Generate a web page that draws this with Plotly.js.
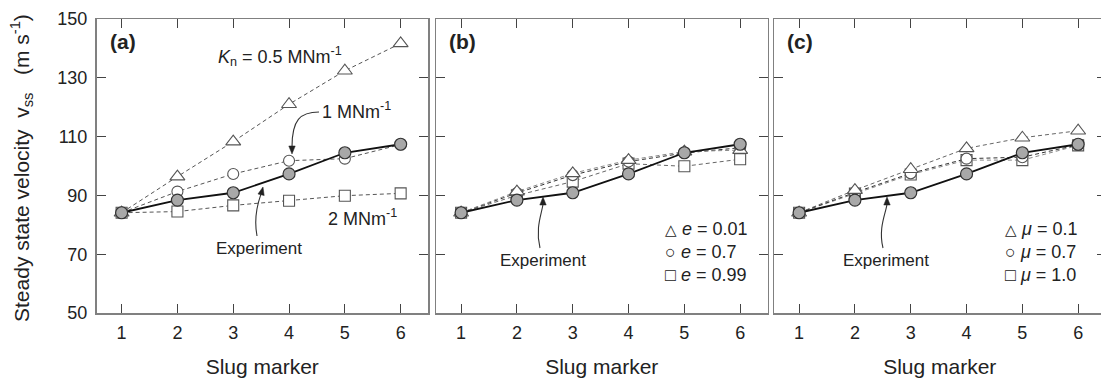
<!DOCTYPE html>
<html><head><meta charset="utf-8">
<script src="https://cdn.plot.ly/plotly-3.0.1.min.js"></script>
<style>html,body{margin:0;padding:0;overflow:hidden;background:#fff;}#chart{width:1108px;height:385px;}</style>
</head><body><div id="chart"></div>
<script>
// ---- data ----
const slugMarker = [1, 2, 3, 4, 5, 6];
const experiment = [84.1, 88.4, 90.9, 97.3, 104.5, 107.4];
const kn05 = [84.1, 96.4, 108.3, 121.0, 132.4, 141.7];
const kn1  = [84.1, 91.3, 97.3, 101.8, 102.5, 107.3];
const kn2  = [84.1, 84.5, 86.6, 88.2, 89.9, 90.7];
const e001 = [84.1, 91.3, 97.5, 102.0, 104.9, 105.4];
const e07  = [84.1, 90.8, 96.9, 101.5, 104.4, 106.2];
const e099 = [84.1, 90.0, 94.7, 100.8, 99.9, 102.3];
const mu01 = [84.1, 91.8, 98.9, 106.0, 109.6, 112.0];
const mu07 = [84.1, 91.0, 97.5, 102.5, 103.0, 107.2];
const mu10 = [84.1, 90.6, 97.1, 102.0, 102.0, 107.0];
const yTicks = [50, 70, 90, 110, 130, 150];
const panelLabels = ['(a)', '(b)', '(c)'];
const xTitle = 'Slug marker';
const yTitle = 'Steady state velocity  v<sub>ss</sub>   (m s<sup>-1</sup>)';
const legendB = ['<i>e</i> = 0.01', '<i>e</i> = 0.7', '<i>e</i> = 0.99'];
const legendC = ['<i>μ</i> = 0.1', '<i>μ</i> = 0.7', '<i>μ</i> = 1.0'];

// ---- geometry helpers ----
const W = 1108, H = 385;
const px = v => v / W, py = v => 1 - v / H;
const FONT = 'Liberation Sans, Arial, sans-serif';
const TXT = '#222';

const panels = [
  {xa: 'x', ya: 'y', l: 96.5, r: 428},
  {xa: 'x2', ya: 'y2', l: 436, r: 767.5},
  {xa: 'x3', ya: 'y3', l: 774, r: 1105.5}
];

function dashed(x, y, sym, xa, ya, col) {
  return {x: x, y: y, xaxis: xa, yaxis: ya, type: 'scatter', mode: 'lines+markers',
    line: {color: col || '#555', width: 1, dash: '4px,3px'},
    marker: {symbol: sym, size: sym === 'triangle-up' ? 13 : 11,
      color: '#fff', line: {color: '#555', width: 1.1}},
    showlegend: false, hoverinfo: 'skip'};
}
function exper(xa, ya) {
  return {x: slugMarker, y: experiment, xaxis: xa, yaxis: ya, type: 'scatter', mode: 'lines+markers',
    line: {color: '#111', width: 1.8},
    marker: {symbol: 'circle', size: 12, color: '#a8a8a8', line: {color: '#333', width: 1.2}},
    showlegend: false, hoverinfo: 'skip'};
}

const data = [
  dashed(slugMarker, kn05, 'triangle-up', 'x', 'y'),
  dashed(slugMarker, kn1, 'circle', 'x', 'y'),
  dashed(slugMarker, kn2, 'square', 'x', 'y'),
  exper('x', 'y'),
  dashed(slugMarker, e099, 'square', 'x2', 'y2', '#666'),
  dashed(slugMarker, e07, 'circle', 'x2', 'y2', '#333'),
  dashed(slugMarker, e001, 'triangle-up', 'x2', 'y2', '#888'),
  exper('x2', 'y2'),
  dashed(slugMarker, mu10, 'square', 'x3', 'y3', '#888'),
  dashed(slugMarker, mu07, 'circle', 'x3', 'y3', '#333'),
  dashed(slugMarker, mu01, 'triangle-up', 'x3', 'y3', '#666'),
  exper('x3', 'y3')
];

const layout = {
  width: W, height: H,
  margin: {l: 0, r: 0, t: 0, b: 0},
  paper_bgcolor: '#fff', plot_bgcolor: '#fff',
  font: {family: FONT, color: TXT, size: 16},
  showlegend: false,
  annotations: [], shapes: []
};

panels.forEach((p, i) => {
  const xk = i === 0 ? 'xaxis' : 'xaxis' + (i + 1);
  const yk = i === 0 ? 'yaxis' : 'yaxis' + (i + 1);
  layout[xk] = {
    domain: [px(p.l), px(p.r)], range: [0.55, 6.49], anchor: p.ya,
    tickmode: 'array', tickvals: slugMarker, ticktext: slugMarker.map(String),
    ticks: 'inside', ticklen: 9, tickwidth: 1, tickcolor: '#444',
    showline: true, linecolor: '#808080', linewidth: 1.5, mirror: 'ticks',
    showgrid: false, zeroline: false, automargin: false,
    tickfont: {family: FONT, size: 18, color: TXT}, ticklabelstandoff: 3,
    title: {text: xTitle, font: {family: FONT, size: 21, color: TXT}, standoff: 17}
  };
  layout[yk] = {
    domain: [py(313), py(19)], range: [50, 150], anchor: p.xa,
    tickmode: 'array', tickvals: yTicks, ticktext: yTicks.map(String),
    showticklabels: i === 0,
    ticks: 'inside', ticklen: 9, tickwidth: 1, tickcolor: '#444',
    showline: true, linecolor: '#808080', linewidth: 1.5, mirror: 'ticks',
    showgrid: false, zeroline: false, automargin: false,
    tickfont: {family: FONT, size: 18, color: TXT}, ticklabelstandoff: 4
  };
  layout.annotations.push({xref: 'paper', yref: 'paper', x: px(p.l + 11), y: py(41),
    xanchor: 'left', yanchor: 'middle', showarrow: false, text: '<b>' + panelLabels[i] + '</b>',
    font: {family: FONT, size: 21, color: TXT}});
});

// y title
layout.annotations.push({xref: 'paper', yref: 'paper', x: px(22), y: py(168), textangle: -90,
  xanchor: 'center', yanchor: 'middle', showarrow: false, text: yTitle,
  font: {family: FONT, size: 21, color: TXT}});

function note(x, y, text, anchor, size) {
  layout.annotations.push({xref: 'paper', yref: 'paper', x: px(x), y: py(y),
    xanchor: anchor || 'center', yanchor: 'middle', showarrow: false, text: text,
    font: {family: FONT, size: size || 16, color: TXT}});
}
note(280, 56, '<i>K</i><sub>n</sub> = 0.5 MNm<sup>-1</sup>', 'center', 18);
note(356, 110, '1 MNm<sup>-1</sup>', 'center', 18);
note(362, 217, '2 MNm<sup>-1</sup>', 'center', 18);
note(259, 248, 'Experiment', 'center', 17);
note(543, 260, 'Experiment', 'center', 17);
note(886, 260, 'Experiment', 'center', 17);

// legends as text
const sym = ['<span style="font-size:15px">△</span>', '<span style="font-size:18px">○</span>', '<span style="font-size:18px">□</span>'];
const rows = [229, 252, 275];
legendB.forEach((t, k) => note(663, rows[k], sym[k] + ' ' + t, 'left', 18));
legendC.forEach((t, k) => note(1003, rows[k], sym[k] + ' ' + t, 'left', 18));

// curved arrows with drawn heads
function curve(pts, tip, dx, dy) {
  const P = pts.map(([a, b]) => [px(a).toFixed(5), py(b).toFixed(5)]);
  const d = 'M ' + P[0].join(',') + ' C ' + P[1].join(',') + ' ' + P[2].join(',') + ' ' + P[3].join(',');
  layout.shapes.push({type: 'path', xref: 'paper', yref: 'paper', path: d,
    line: {color: '#333', width: 1.1}});
  // arrowhead: tip, back along (dx,dy) with half-width
  const L = 8, Wd = 3.2;
  const n = Math.hypot(dx, dy), ux = dx / n, uy = dy / n;
  const bx = tip[0] - ux * L, by = tip[1] - uy * L;
  const a = [bx - uy * Wd, by + ux * Wd], b = [bx + uy * Wd, by - ux * Wd];
  const hp = 'M ' + [tip, a, b].map(q => px(q[0]).toFixed(5) + ',' + py(q[1]).toFixed(5)).join(' L ') + ' Z';
  layout.shapes.push({type: 'path', xref: 'paper', yref: 'paper', path: hp,
    fillcolor: '#222', line: {color: '#222', width: 0.5}});
}
curve([[319, 112], [300, 112], [292, 120], [292, 147]], [292, 154], 0, 1);
curve([[257, 236], [253, 215], [259, 200], [261, 194]], [263, 187], 0.25, -1);
curve([[540, 248], [535, 228], [542, 213], [543, 204]], [543, 197], 0, -1);
curve([[883, 248], [878, 228], [886, 213], [887, 204]], [887, 197], 0, -1);

Plotly.newPlot('chart', data, layout, {staticPlot: true, displayModeBar: false});
</script></body></html>
